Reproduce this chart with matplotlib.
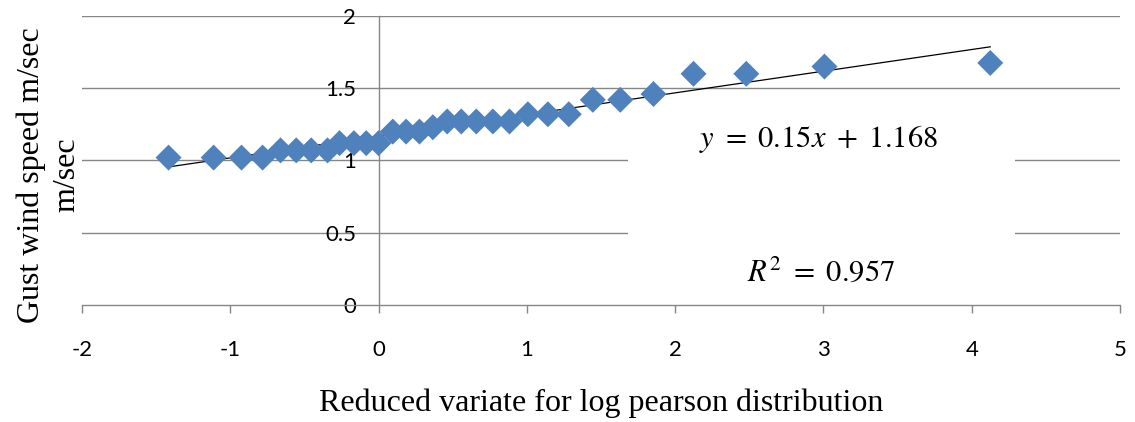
import matplotlib
matplotlib.use("Agg")
import matplotlib.pyplot as plt
from matplotlib.patches import Rectangle
import numpy as np

# Data
reduced_variate = [-1.416, -1.112, -0.924, -0.782, -0.661, -0.555, -0.454, -0.344,
                   -0.263, -0.166, -0.083, 0.0, 0.096, 0.186, 0.276, 0.366,
                   0.463, 0.558, 0.659, 0.771, 0.883, 1.007, 1.142, 1.283,
                   1.445, 1.630, 1.854, 2.124, 2.480, 3.007, 4.125]
gust_speed = [1.02, 1.02, 1.02, 1.02, 1.07, 1.07, 1.07, 1.07,
              1.12, 1.12, 1.12, 1.12, 1.20, 1.20, 1.20, 1.23,
              1.27, 1.27, 1.27, 1.27, 1.27, 1.32, 1.32, 1.32,
              1.42, 1.42, 1.46, 1.60, 1.60, 1.65, 1.675]
trend_slope = 0.15
trend_intercept = 1.168
r_squared = 0.957
x_ticks = [-2, -1, 0, 1, 2, 3, 4, 5]
y_ticks = [0, 0.5, 1, 1.5, 2]

plt.rcParams['mathtext.fontset'] = 'stix'

fig = plt.figure(figsize=(11.35, 4.22), dpi=100)
ax = fig.add_axes([0.0722, 0.2773, 0.9146, 0.6848])

grid_color = '#868686'
ax.set_xlim(-2, 5)
ax.set_ylim(0, 2)
ax.set_xticks(x_ticks)
ax.set_yticks(y_ticks)
ax.set_xticklabels([str(t) for t in x_ticks])
ax.set_yticklabels(['0', '0.5', '1', '1.5', '2'])

for y in y_ticks[1:]:
    ax.axhline(y, color=grid_color, lw=1.0, zorder=0)

ax.spines['top'].set_visible(False)
ax.spines['right'].set_visible(False)
ax.spines['left'].set_position(('data', 0))
ax.spines['left'].set_color(grid_color)
ax.spines['bottom'].set_color(grid_color)
ax.spines['left'].set_linewidth(1.0)
ax.spines['bottom'].set_linewidth(1.0)
ax.spines['left'].set_zorder(0)

ax.tick_params(axis='x', direction='out', length=6, width=1.0, color=grid_color,
               pad=19, labelsize=16)
ax.tick_params(axis='y', length=0, pad=16, labelsize=16)
for lab in ax.get_xticklabels() + ax.get_yticklabels():
    lab.set_fontfamily('Lato')

# white box behind the annotations
ax.add_patch(Rectangle((0.526, 0.05), 0.373, 0.64, transform=ax.transAxes,
                       facecolor='white', edgecolor='none', zorder=1))

# trendline
xt = np.array([min(reduced_variate), max(reduced_variate)])
ax.plot(xt, trend_slope * xt + trend_intercept, color='black', lw=0.9, zorder=3)

ax.scatter(reduced_variate, gust_speed, marker='D', s=175, color='#4F81BD',
           edgecolors='none', zorder=4, clip_on=False)

ax.text(0.710, 0.575, r'$y\ =\ 0.15x\ +\ 1.168$', transform=ax.transAxes,
        ha='center', va='center', fontsize=22, zorder=5)
ax.text(0.712, 0.115, r'$R^2\ =\ 0.957$', transform=ax.transAxes,
        ha='center', va='center', fontsize=22, zorder=5)

fig.text(0.530, 0.045, 'Reduced variate for log pearson distribution',
         ha='center', va='center', fontsize=23, family='Liberation Serif')
fig.text(0.043, 0.585, 'Gust wind speed m/sec\nm/sec', ha='center', va='center',
         rotation=90, fontsize=23, family='Liberation Serif', linespacing=1.3,
         multialignment='center')

fig.savefig('out.png', dpi=100)
